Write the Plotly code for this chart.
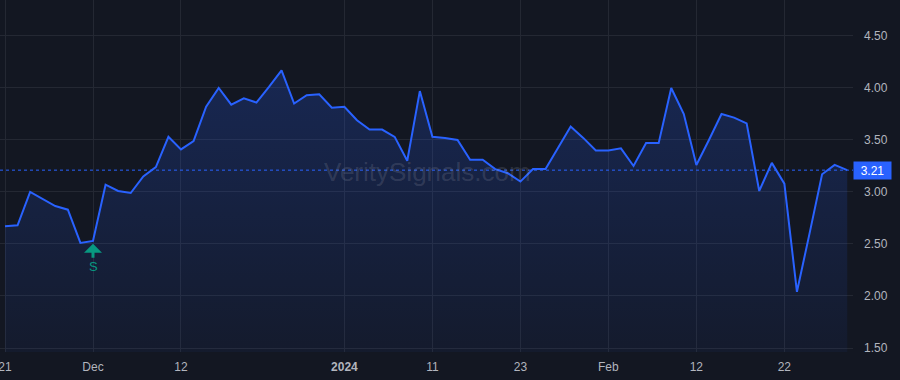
import plotly.graph_objects as go

# ---- data ----
dates = [
    "2023-11-21", "2023-11-22", "2023-11-24", "2023-11-27", "2023-11-28", "2023-11-29", "2023-11-30",
    "2023-12-01", "2023-12-04", "2023-12-05", "2023-12-06", "2023-12-07", "2023-12-08", "2023-12-11",
    "2023-12-12", "2023-12-13", "2023-12-14", "2023-12-15", "2023-12-18", "2023-12-19", "2023-12-20",
    "2023-12-21", "2023-12-22", "2023-12-26", "2023-12-27", "2023-12-28", "2023-12-29",
    "2024-01-02", "2024-01-03", "2024-01-04", "2024-01-05", "2024-01-08", "2024-01-09", "2024-01-10",
    "2024-01-11", "2024-01-12", "2024-01-16", "2024-01-17", "2024-01-18", "2024-01-19", "2024-01-22",
    "2024-01-23", "2024-01-24", "2024-01-25", "2024-01-26", "2024-01-29", "2024-01-30", "2024-01-31",
    "2024-02-01", "2024-02-02", "2024-02-05", "2024-02-06", "2024-02-07", "2024-02-08", "2024-02-09",
    "2024-02-12", "2024-02-13", "2024-02-14", "2024-02-15", "2024-02-16", "2024-02-20", "2024-02-21",
    "2024-02-22", "2024-02-23", "2024-02-26", "2024-02-27", "2024-02-28", "2024-02-29",
]
values = [
    2.67, 2.68, 3.00, 2.93, 2.865, 2.83, 2.51,
    2.53, 3.07, 3.01, 2.99, 3.15, 3.24, 3.53, 3.41, 3.49, 3.82, 4.00, 3.84, 3.90, 3.86,
    4.01, 4.17, 3.85, 3.93, 3.94, 3.81,
    3.82, 3.69, 3.60, 3.60, 3.53, 3.30, 3.97, 3.53, 3.52, 3.50, 3.31, 3.31, 3.22, 3.18,
    3.10, 3.22, 3.22, 3.42, 3.63, 3.52, 3.40,
    3.40, 3.42, 3.25, 3.47, 3.47, 4.00, 3.75, 3.26, 3.50, 3.75, 3.715, 3.66, 3.01, 3.28,
    3.08, 2.04, 2.60, 3.17, 3.26, 3.21,
]
tick_dates = ["2023-11-21", "2023-12-01", "2023-12-12", "2024-01-02", "2024-01-11",
              "2024-01-23", "2024-02-01", "2024-02-12", "2024-02-22"]
tick_labels = ["21", "Dec", "12", "<b>2024</b>", "11", "23", "Feb", "12", "22"]
y_ticks = [1.5, 2.0, 2.5, 3.0, 3.5, 4.0, 4.5]
signal_date = "2023-12-01"
signal_label = "S"
watermark = "VeritySignals.com"

BG = "#131722"
GRID = "#242833"
TXT = "#b2b5be"
BLUE = "#2962ff"
TEAL = "#089981"

fig = go.Figure()
fig.add_trace(go.Scatter(
    x=dates, y=values, mode="lines",
    line=dict(color=BLUE, width=2),
    fill="tozeroy",
    fillgradient=dict(type="vertical",
                      colorscale=[[0, "rgba(41,98,255,0.05)"], [1, "rgba(41,98,255,0.22)"]],
                      start=1.46, stop=4.2),
    hoverinfo="skip",
))

last = values[-1]
fig.add_shape(type="line", xref="paper", x0=0, x1=1, yref="y", y0=last, y1=last,
              line=dict(color=BLUE, width=1, dash="dot"))
fig.add_annotation(xref="paper", x=1, yref="y", y=last, xanchor="left", yanchor="middle",
                   text=f"{last:.2f}", showarrow=False, bgcolor=BLUE,
                   font=dict(color="#ffffff", size=12, family="Liberation Sans, Arial"),
                   width=35, height=15, borderpad=1)

sig_idx = dates.index(signal_date)
fig.add_annotation(x=signal_date, y=values[sig_idx], xref="x", yref="y",
                   text=signal_label, showarrow=True, ax=0, ay=26,
                   arrowhead=1, arrowsize=1, arrowwidth=3, arrowcolor=TEAL, standoff=3,
                   font=dict(color=TEAL, size=13, family="Liberation Sans, Arial"))

fig.add_annotation(xref="paper", yref="paper", x=0.5006, y=0.511, text=watermark,
                   showarrow=False, xanchor="center", yanchor="middle",
                   font=dict(size=26, color="rgba(178,181,190,0.18)", family="Liberation Sans, Arial"))

n = len(dates)
fig.update_layout(
    width=900, height=380,
    margin=dict(l=0, r=47, t=0, b=28),
    paper_bgcolor=BG, plot_bgcolor=BG,
    showlegend=False,
    font=dict(family="Liberation Sans, Arial", size=12, color=TXT),
    xaxis=dict(type="category", range=[-0.398, 67.46], tickmode="array",
               tickvals=tick_dates, ticktext=tick_labels,
               showgrid=True, gridcolor=GRID, gridwidth=1, zeroline=False,
               showline=False, ticks="", ticklabelstandoff=6, automargin=False,
               tickfont=dict(size=12, color=TXT)),
    yaxis=dict(side="right", range=[1.4615, 4.846], tickmode="array",
               tickvals=y_ticks, ticktext=[f"{v:.2f}" for v in y_ticks],
               showgrid=True, gridcolor=GRID, gridwidth=1, zeroline=False,
               showline=False, ticks="", ticklabelstandoff=10, automargin=False,
               tickfont=dict(size=12, color=TXT)),
)

fig.write_html("out.html")
